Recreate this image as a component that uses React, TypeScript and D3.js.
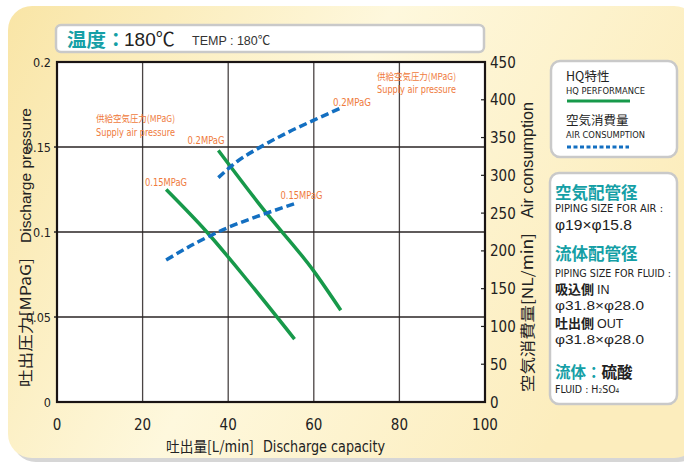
import React from 'react';
import * as d3 from 'd3';

// discharge capacity [L/min] vs discharge pressure [MPaG]
const hq015Flow = [25.5, 35, 45, 55.5];
const hq015Press = [0.125, 0.1, 0.07, 0.037];
const hq020Flow = [37.7, 48, 60, 66.3];
const hq020Press = [0.148, 0.114, 0.077, 0.054];

// discharge capacity [L/min] vs air consumption [NL/min]
const air015Flow = [25.5, 33, 40, 48, 55.8];
const air015Cons = [188, 212, 231, 248, 263];
const air020Flow = [37.7, 42, 47.4, 54, 60, 66.3];
const air020Cons = [297, 318, 337, 357, 373, 389];

const xTicks = [0, 20, 40, 60, 80, 100];
const pressTicks = [0, 0.05, 0.1, 0.15, 0.2];
const airTicks = [0, 50, 100, 150, 200, 250, 300, 350, 400, 450];

const W = 684;
const H = 463;
const plot = { left: 57, right: 485, top: 62, bottom: 402 };

const TEAL = '#159fa6';
const ORANGE = '#ef7b3d';
const GREEN = '#17994a';
const BLUE = '#136fc1';
const NARROW = '"Liberation Sans Narrow", "DejaVu Sans Condensed", Arial, sans-serif';
const SANS = '"Liberation Sans", Arial, "Noto Sans CJK JP", sans-serif';
const JP = '"Noto Sans CJK JP", "Liberation Sans", sans-serif';

const x = d3.scaleLinear().domain([0, 100]).range([plot.left, plot.right]);
const yP = d3.scaleLinear().domain([0, 0.2]).range([plot.bottom, plot.top]);
const yA = d3.scaleLinear().domain([0, 450]).range([plot.bottom, plot.top]);

const lineP = d3.line<[number, number]>()
    .x(d => x(d[0]))
    .y(d => yP(d[1]))
    .curve(d3.curveMonotoneX);
const lineA = d3.line<[number, number]>()
    .x(d => x(d[0]))
    .y(d => yA(d[1]))
    .curve(d3.curveMonotoneX);

const zip = (a: number[], b: number[]) => a.map((v, i) => [v, b[i]] as [number, number]);

const App: React.FC = () => {
    return (
        <svg width={W} height={H} viewBox={`0 0 ${W} ${H}`}
            style={{ position: 'absolute', left: 0, top: 0, display: 'block' }}>
            <defs>
                <linearGradient id="panelBg" x1="0" y1="0" x2="1" y2="0.35">
                    <stop offset="0" stopColor="#f9e5a6" />
                    <stop offset="0.5" stopColor="#fef8dd" />
                    <stop offset="1" stopColor="#fcedbd" />
                </linearGradient>
            </defs>
            <rect x={0} y={0} width={W} height={H} fill="#ffffff" />
            {/* panel + shadow */}
            <rect x={12} y={10} width={690} height={452} rx={24} fill="#d6d6d6" />
            <rect x={8} y={6} width={690} height={452} rx={24} fill="url(#panelBg)" />

            {/* title box */}
            <rect x={56} y={25} width={428} height={27} rx={5} fill="#fff" stroke="#c9c9c9" strokeWidth={2.5} />
            <text x={67} y={46.5} fontFamily={JP} fontSize={19.5} fontWeight={700} fill={TEAL}>温度：</text>
            <text x={124} y={46} fontFamily={SANS} fontSize={19} fill="#222">180℃</text>
            <text x={192} y={45} fontFamily={SANS} fontSize={12.5} fill="#333">TEMP : 180℃</text>

            {/* plot */}
            <rect x={plot.left} y={plot.top} width={plot.right - plot.left} height={plot.bottom - plot.top} fill="#fff" />
            {xTicks.slice(1, -1).map(t => (
                <line key={`gx${t}`} x1={x(t)} x2={x(t)} y1={plot.top} y2={plot.bottom} stroke="#4a4444" strokeWidth={1.3} />
            ))}
            {pressTicks.slice(1, -1).map(t => (
                <line key={`gy${t}`} x1={plot.left - 3} x2={plot.right} y1={yP(t)} y2={yP(t)} stroke="#2a2424" strokeWidth={1.3} />
            ))}
            {airTicks.slice(1, -1).map(t => (
                <line key={`ta${t}`} x1={plot.right - 4} x2={plot.right} y1={yA(t)} y2={yA(t)} stroke="#222" strokeWidth={1.2} />
            ))}
            <rect x={plot.left} y={plot.top} width={plot.right - plot.left} height={plot.bottom - plot.top}
                fill="none" stroke="#1a1414" strokeWidth={2.2} />

            {/* curves */}
            <path d={lineP(zip(hq015Flow, hq015Press)) || ''} fill="none" stroke={GREEN} strokeWidth={3.5} />
            <path d={lineP(zip(hq020Flow, hq020Press)) || ''} fill="none" stroke={GREEN} strokeWidth={3.5} />
            <path d={lineA(zip(air015Flow, air015Cons)) || ''} fill="none" stroke={BLUE} strokeWidth={3.5} strokeDasharray="8,4" />
            <path d={lineA(zip(air020Flow, air020Cons)) || ''} fill="none" stroke={BLUE} strokeWidth={3.5} strokeDasharray="8,4" />

            {/* annotations */}
            <g fontFamily={NARROW} fontSize={10.5} fill={ORANGE}>
                <text x={96} y={122} fontFamily={JP} fontSize={9.5} textLength={79} lengthAdjust="spacingAndGlyphs">供給空気圧力(MPaG)</text>
                <text x={96} y={135.5} textLength={79} lengthAdjust="spacingAndGlyphs">Supply air pressure</text>
                <text x={377} y={80} fontFamily={JP} fontSize={9.5} textLength={79} lengthAdjust="spacingAndGlyphs">供給空気圧力(MPaG)</text>
                <text x={377} y={92.5} textLength={79} lengthAdjust="spacingAndGlyphs">Supply air pressure</text>
                <text x={333} y={105.5} textLength={38} lengthAdjust="spacingAndGlyphs">0.2MPaG</text>
                <text x={187.5} y={143.5} textLength={37} lengthAdjust="spacingAndGlyphs">0.2MPaG</text>
                <text x={145} y={185.5} textLength={42} lengthAdjust="spacingAndGlyphs">0.15MPaG</text>
                <text x={280.5} y={199} textLength={42} lengthAdjust="spacingAndGlyphs">0.15MPaG</text>
            </g>

            {/* axis tick labels */}
            <g fontFamily={NARROW} fontSize={12.5} fill="#222" textAnchor="end">
                {pressTicks.map(t => (
                    <text key={`lp${t}`} x={plot.left - 6} y={yP(t) + 4.5}>{t === 0 ? '0' : String(t)}</text>
                ))}
            </g>
            <g fontFamily={NARROW} fontSize={15} fill="#222">
                {airTicks.map(t => (
                    <text key={`la${t}`} x={plot.right + 5} y={yA(t) + 5.5}>{t}</text>
                ))}
            </g>
            <g fontFamily={NARROW} fontSize={15} fill="#222" textAnchor="middle">
                {xTicks.map(t => (
                    <text key={`lx${t}`} x={x(t)} y={430}>{t}</text>
                ))}
            </g>

            {/* axis titles */}
            <g fontSize={15} fill="#222">
                <text x={166} y={452} fontFamily={JP} textLength={88} lengthAdjust="spacingAndGlyphs">吐出量[L/min]</text>
                <text x={263} y={452} fontFamily={NARROW} fontSize={16} textLength={122} lengthAdjust="spacingAndGlyphs">Discharge capacity</text>
                <g transform="translate(31,0) rotate(-90)">
                    <text x={-387} y={0} fontFamily={JP} textLength={129} lengthAdjust="spacingAndGlyphs">吐出圧力[MPaG]</text>
                    <text x={-243} y={0} fontFamily={SANS} textLength={135} lengthAdjust="spacingAndGlyphs">Discharge pressure</text>
                </g>
                <g transform="translate(533,0) rotate(-90)">
                    <text x={-392} y={0} fontFamily={JP} textLength={159} lengthAdjust="spacingAndGlyphs">空気消費量[NL/min]</text>
                    <text x={-218} y={0} fontFamily={SANS} fontSize={16} textLength={116} lengthAdjust="spacingAndGlyphs">Air consumption</text>
                </g>
            </g>

            {/* legend box */}
            <rect x={551} y={61} width={126} height={96} rx={9} fill="#fff" stroke="#c9c9c9" strokeWidth={2.5} />
            <text x={566} y={81} fontFamily={JP} fontSize={12.5} fill="#222">HQ特性</text>
            <text x={566} y={94} fontFamily={NARROW} fontSize={9} fill="#222" textLength={79} lengthAdjust="spacingAndGlyphs">HQ PERFORMANCE</text>
            <line x1={567} x2={630} y1={101} y2={101} stroke={GREEN} strokeWidth={3} />
            <text x={566} y={125} fontFamily={JP} fontSize={12.5} fill="#222">空気消費量</text>
            <text x={566} y={137.5} fontFamily={NARROW} fontSize={9} fill="#222" textLength={79} lengthAdjust="spacingAndGlyphs">AIR CONSUMPTION</text>
            <line x1={567} x2={629} y1={147} y2={147} stroke={BLUE} strokeWidth={3} strokeDasharray="4,2.5" />

            {/* piping info box */}
            <rect x={550} y={173} width={127} height={231} rx={9} fill="#fff" stroke="#c9c9c9" strokeWidth={2.5} />
            <g fill="#222">
                <text x={555} y={199} fontFamily={JP} fontSize={16.5} fontWeight={700} fill={TEAL}>空気配管径</text>
                <text x={555} y={212} fontFamily={NARROW} fontSize={10} textLength={108} lengthAdjust="spacingAndGlyphs">PIPING SIZE FOR AIR :</text>
                <text x={555} y={230} fontFamily={SANS} fontSize={14} textLength={77} lengthAdjust="spacingAndGlyphs">φ19×φ15.8</text>
                <text x={555} y={260} fontFamily={JP} fontSize={16.5} fontWeight={700} fill={TEAL}>流体配管径</text>
                <text x={555} y={277} fontFamily={NARROW} fontSize={10} textLength={116} lengthAdjust="spacingAndGlyphs">PIPING SIZE FOR FLUID :</text>
                <text x={555} y={294} fontFamily={JP} fontSize={13} fontWeight={700}>吸込側 <tspan fontFamily={SANS} fontWeight={400} fontSize={12.5}>IN</tspan></text>
                <text x={555} y={310} fontFamily={SANS} fontSize={13.5} textLength={89} lengthAdjust="spacingAndGlyphs">φ31.8×φ28.0</text>
                <text x={555} y={327.5} fontFamily={JP} fontSize={13} fontWeight={700}>吐出側 <tspan fontFamily={SANS} fontWeight={400} fontSize={12.5}>OUT</tspan></text>
                <text x={555} y={343.5} fontFamily={SANS} fontSize={13.5} textLength={89} lengthAdjust="spacingAndGlyphs">φ31.8×φ28.0</text>
                <text x={555} y={378} fontFamily={JP} fontSize={15.5} fontWeight={700}>
                    <tspan fill={TEAL}>流体：</tspan>硫酸
                </text>
                <text x={555} y={393} fontFamily={NARROW} fontSize={10.5}>
                    FLUID : H<tspan fontSize={6.5}>2</tspan>SO<tspan fontSize={6.5}>4</tspan>
                </text>
            </g>
        </svg>
    );
};

export default App;
